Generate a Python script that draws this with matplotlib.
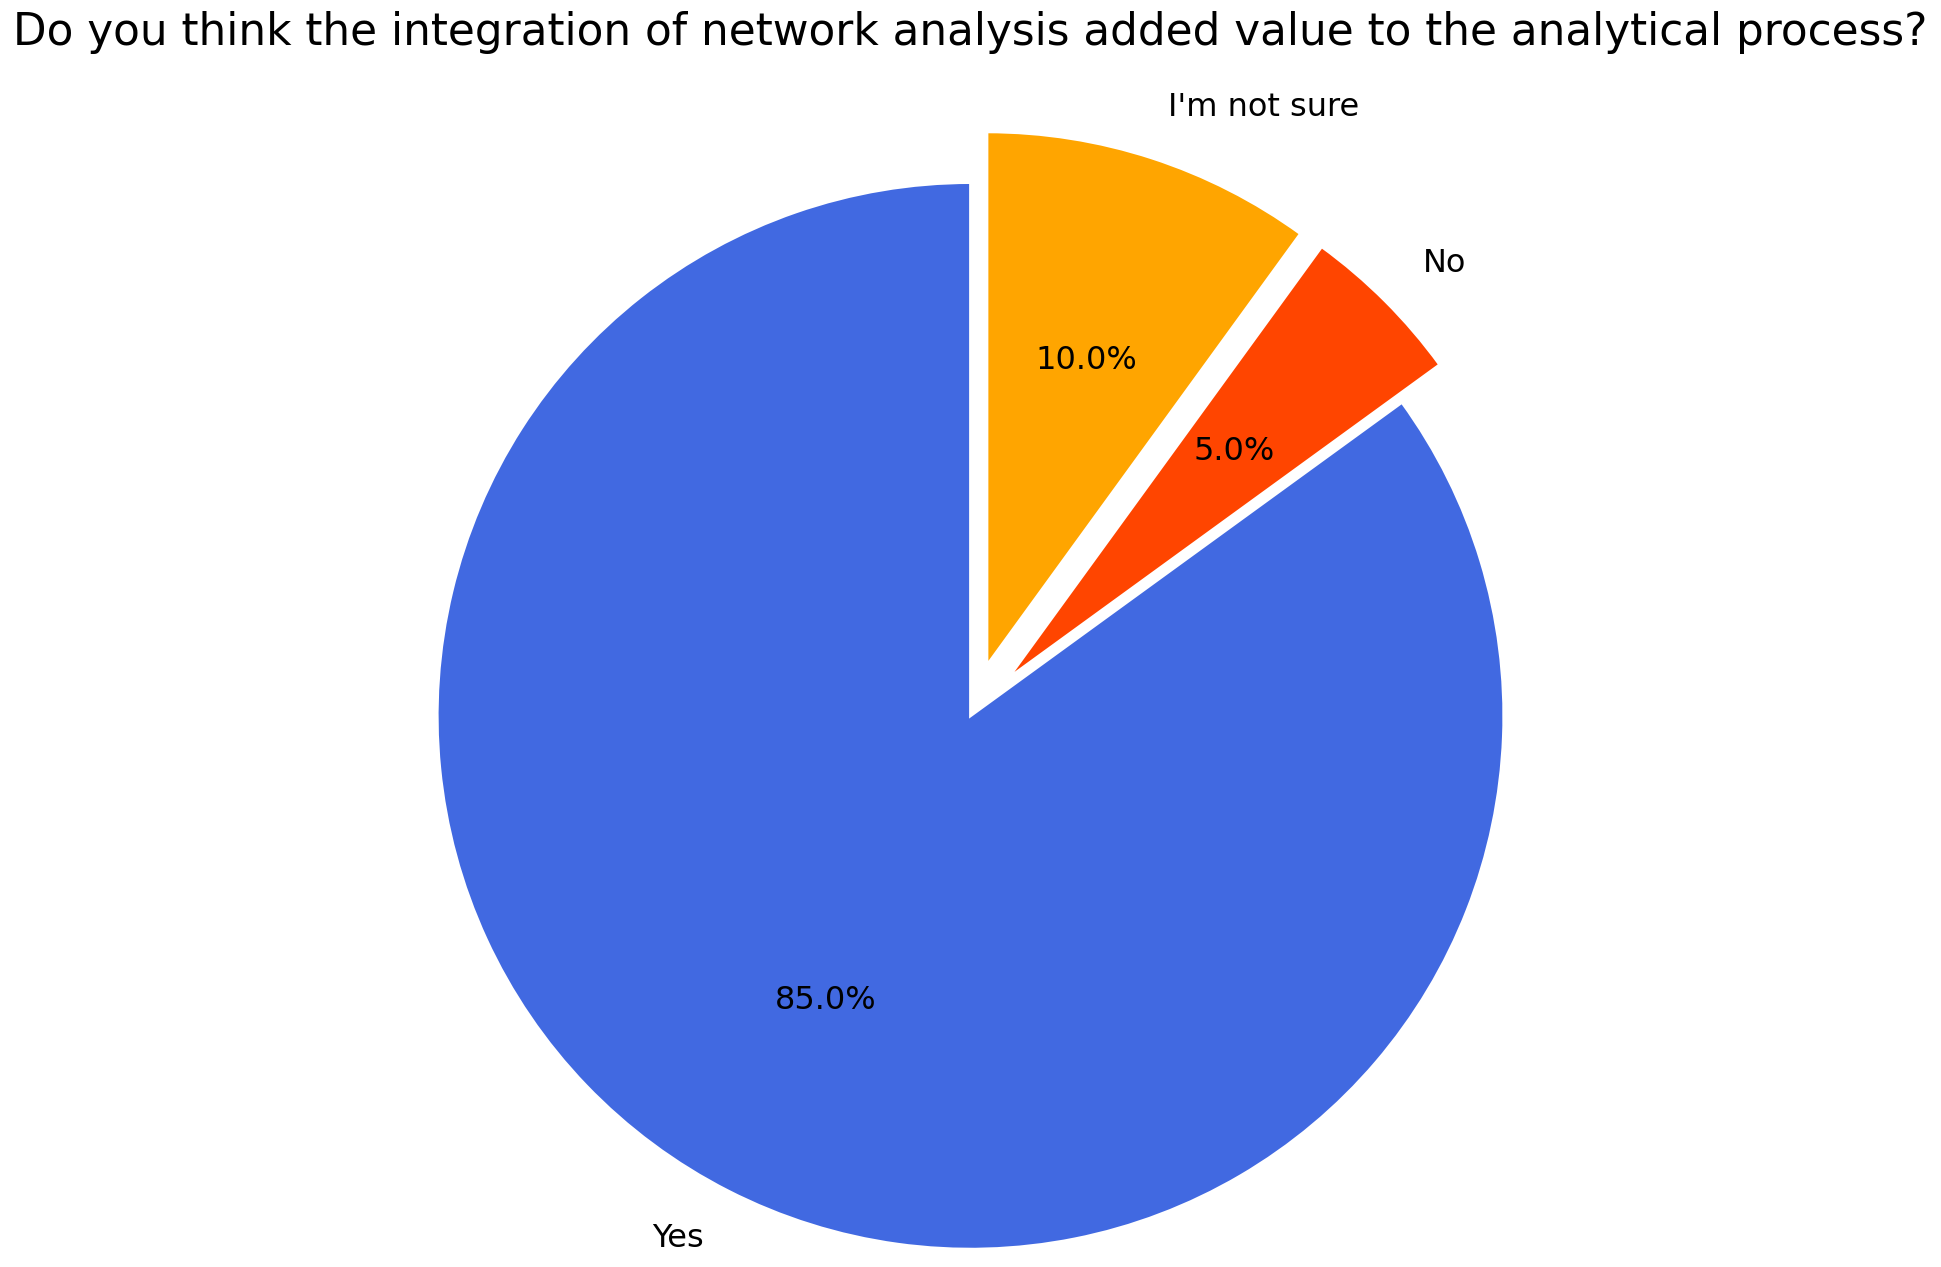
import matplotlib
matplotlib.use('Agg')
import matplotlib.pyplot as plt

labels = ['Yes', 'No', "I'm not sure"]
valores = [85, 5, 10]
colores = ['royalblue', 'orangered', 'orange']
explode = [0, 0.1, 0.1]

fig, ax = plt.subplots(figsize=(19.41, 12.67), dpi=100)
ax.pie(valores, labels=labels, colors=colores, explode=explode, startangle=90,
       autopct='%1.1f%%', textprops={'fontsize': 23},
       wedgeprops={'edgecolor': 'white', 'linewidth': 2})
ax.set_title('Do you think the integration of network analysis added value to the analytical process?',
             fontsize=31.5, pad=22)
ax.axis('equal')
fig.subplots_adjust(left=0.01, right=0.99, top=0.94, bottom=-0.03)
fig.savefig('out.png')
